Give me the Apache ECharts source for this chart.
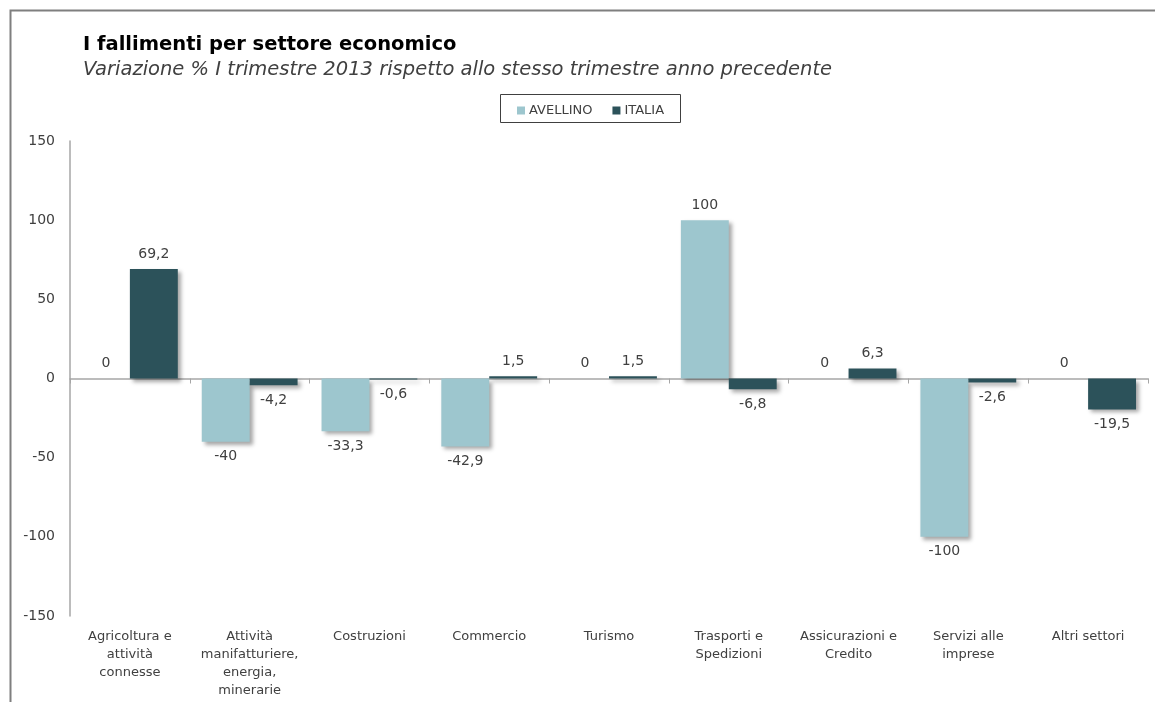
<!DOCTYPE html>
<html><head><meta charset="utf-8">
<script src="https://cdn.jsdelivr.net/npm/echarts@6/dist/echarts.min.js"></script>
<style>html,body{margin:0;padding:0;background:#fff}#c{width:1155px;height:702px}</style>
</head><body><div id="c"></div>
<script>
const categories = ["Agricoltura e\nattività\nconnesse","Attività\nmanifatturiere,\nenergia,\nminerarie","Costruzioni","Commercio","Turismo","Trasporti e\nSpedizioni","Assicurazioni e\nCredito","Servizi alle\nimprese","Altri settori"];
const avellino = [0, -40, -33.3, -42.9, 0, 100, 0, -100, 0];
const italia = [69.2, -4.2, -0.6, 1.5, 1.5, -6.8, 6.3, -2.6, -19.5];
const yTicks = [-150, -100, -50, 0, 50, 100, 150];
const seriesNames = ["AVELLINO", "ITALIA"];
const colors = ["#9DC6CE", "#2C525A"];
const FONT = "'DejaVu Sans', 'Open Sans', sans-serif";

function items(vals){
  return vals.map(v => ({value: v, label: {position: v >= 0 ? 'top' : 'bottom'}}));
}
const barStyle = (c) => ({color: c, shadowColor: 'rgba(0,0,0,0.35)', shadowBlur: 4, shadowOffsetX: 3, shadowOffsetY: 3});
const labelCfg = {show: true, distance: 8, color: '#404040', fontFamily: FONT, fontSize: 14,
  formatter: p => String(p.value).replace('.', ',')};

const chart = echarts.init(document.getElementById('c'), null, {renderer: 'canvas'});
chart.setOption({
  animation: false,
  backgroundColor: '#fff',
  graphic: [
    {type: 'rect', left: 8, top: 8, shape: {width: 1170, height: 720}, style: {fill: 'none', stroke: '#7f7f7f', lineWidth: 2}, silent: true},
    {type: 'rect', left: 498, top: 92, shape: {width: 180, height: 28}, style: {fill: 'none', stroke: '#404040', lineWidth: 1}, silent: true}
  ],
  title: {
    text: 'I fallimenti per settore economico',
    subtext: 'Variazione % I trimestre 2013 rispetto allo stesso trimestre anno precedente',
    left: 78, top: 30, itemGap: 5,
    textStyle: {fontFamily: FONT, fontSize: 19.5, fontWeight: 'bold', color: '#000'},
    subtextStyle: {fontFamily: FONT, fontSize: 19.5, fontStyle: 'italic', color: '#404040'}
  },
  legend: {
    data: seriesNames, top: 99, left: 512, itemWidth: 8, itemHeight: 8, itemGap: 20,
    icon: 'rect',
    textStyle: {fontFamily: FONT, fontSize: 13, color: '#404040', padding: [0,0,0,-1]}
  },
  grid: {left: 70, right: 7, top: 141, bottom: 86, containLabel: false},
  xAxis: [
    {type: 'category', data: categories, position: 'bottom',
      axisLine: {onZero: true, lineStyle: {color: '#a6a6a6', width: 1.5}},
      axisTick: {show: true, length: 5, lineStyle: {color: '#a6a6a6'}},
      axisLabel: {show: false}},
    {type: 'category', data: categories, position: 'bottom',
      axisLine: {show: false}, axisTick: {show: false},
      axisLabel: {interval: 0, margin: 12, color: '#404040', fontFamily: FONT, fontSize: 13, lineHeight: 18, align: 'center'}}
  ],
  yAxis: {
    type: 'value', min: yTicks[0], max: yTicks[yTicks.length-1], interval: 50,
    axisLine: {show: true, lineStyle: {color: '#a6a6a6', width: 1.5}},
    axisTick: {show: false}, splitLine: {show: false},
    axisLabel: {margin: 15, color: '#404040', fontFamily: FONT, fontSize: 14}
  },
  series: [
    {name: seriesNames[0], type: 'bar', xAxisIndex: 0, data: items(avellino), barGap: '0%', barCategoryGap: '20%',
      itemStyle: barStyle(colors[0]), label: labelCfg},
    {name: seriesNames[1], type: 'bar', xAxisIndex: 0, data: items(italia), barGap: '0%', barCategoryGap: '20%',
      itemStyle: barStyle(colors[1]), label: labelCfg}
  ],
  color: colors
});
</script></body></html>
